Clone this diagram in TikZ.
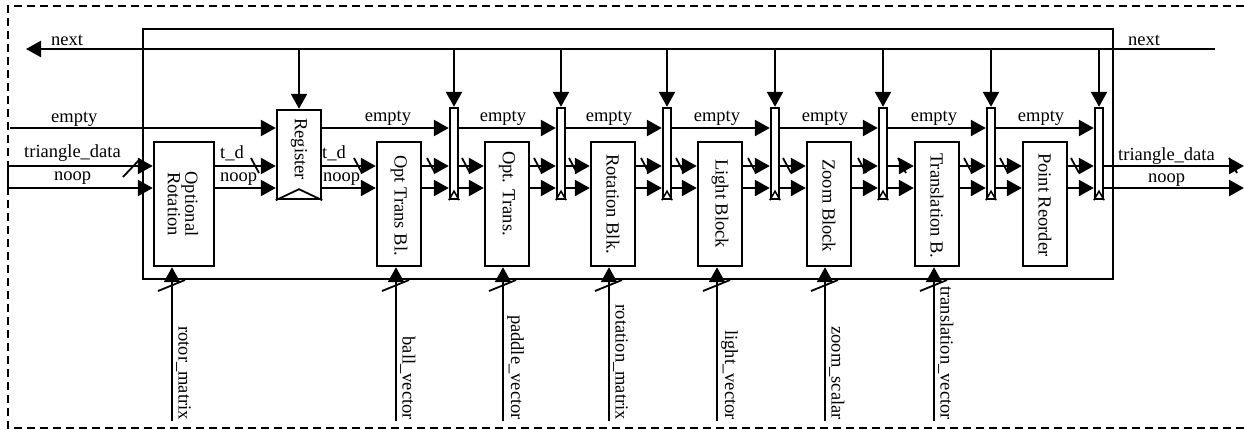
\documentclass[tikz,border=0pt]{standalone}
\usepackage{fontspec}
\setmainfont{Liberation Serif}
\usetikzlibrary{arrows.meta,calc}
\begin{document}
\begin{tikzpicture}[x=1pt,y=-1pt,
  line width=2.4pt,
  every node/.style={font=\fontsize{18.5}{17.5}\selectfont, inner sep=0pt},
  blk/.style={draw, rectangle, minimum width=44pt, minimum height=124pt},
  latch/.style={draw, rectangle, minimum width=8pt, minimum height=91pt},
  arr/.style={-{Triangle[length=15pt,width=16pt]}},
  vtxt/.style={rotate=-90, anchor=west},
  inlab/.style={rotate=-90, anchor=south east},
  lab/.style={anchor=base},
  labw/.style={anchor=base west},
  busmark/.style={line width=1.8pt},
  frame/.style={dash pattern=on 8pt off 5pt, line width=2pt}
]
\useasboundingbox (0,0) rectangle (1244,429);

% outer dashed frame
\draw[frame] (1244,6) -- (8,6) -- (8,428) -- (1244,428);

% pipeline enclosure
\node[draw, rectangle, minimum width=970pt, minimum height=250pt] (pipe) at (628,154) {};

% blocks
\node[draw, rectangle, minimum width=60pt, minimum height=124pt] (ort) at (184,204) {};
\node[draw, rectangle, minimum width=44pt, minimum height=89pt] (reg) at (299,154.5) {};
\node[blk] (otb) at (399,204) {};
\node[blk] (otr) at (507,204) {};
\node[blk] (rot) at (613,204) {};
\node[blk] (lgt) at (720,204) {};
\node[blk] (zom) at (829,204) {};
\node[blk] (trn) at (937,204) {};
\node[blk] (prd) at (1045,204) {};

% latches
\node[latch] (l1) at (454,153.5) {};
\node[latch] (l2) at (561,153.5) {};
\node[latch] (l3) at (667,153.5) {};
\node[latch] (l4) at (775,153.5) {};
\node[latch] (l5) at (883,153.5) {};
\node[latch] (l6) at (991,153.5) {};
\node[latch] (l7) at (1099,153.5) {};

% clock notches
\draw[line width=1.8pt] (reg.south west) -- ($(reg.south)+(0,-11)$) -- (reg.south east);
\foreach \l in {l1,l2,l3,l4,l5,l6,l7}{
  \draw[line width=1.5pt] (\l.south west) -- ($(\l.south)+(0,-9)$) -- (\l.south east);
}

% block texts
\node[align=center, rotate=-90] (tort) at (183,204) {Optional\\Rotation};
\node[vtxt] (treg) at (299,117) {Register};
\node[vtxt] (totb) at (399,154) {Opt Trans Bl.};
\node[vtxt] (totr) at (507,150) {Opt. Trans.};
\node[vtxt] (trot) at (613,153) {Rotation Blk.};
\node[vtxt] (tlgt) at (720,158) {Light Block};
\node[vtxt] (tzom) at (829,158) {Zoom Block};
\node[vtxt] (ttrn) at (937,152) {Translation B.};
\node[vtxt] (tprd) at (1045,152) {Point Reorder};

% reference levels
\coordinate (ynx) at (0,49);
\coordinate (yem) at (0,128);
\coordinate (ytd) at (0,166);
\coordinate (yno) at (0,188);

% next line
\coordinate (nR) at (1215,49);
\coordinate (nL) at (26,49);
\draw[arr] (nR) -- (nL);
\draw[arr] (reg.north |- ynx) -- (reg.north);
\foreach \l in {l1,l2,l3,l4,l5,l6,l7}{
  \draw[arr] (\l.north |- ynx) -- (\l.north);
}
\node[labw] (nxl) at (50,45) {next};
\node[labw] (nxr) at (1127,45) {next};

% empty chain
\coordinate (eL) at (10,128);
\draw[arr] (eL) -- (reg.west |- yem);
\draw[arr] (reg.east |- yem) -- (l1.west |- yem);
\draw[arr] (l1.east |- yem) -- (l2.west |- yem);
\draw[arr] (l2.east |- yem) -- (l3.west |- yem);
\draw[arr] (l3.east |- yem) -- (l4.west |- yem);
\draw[arr] (l4.east |- yem) -- (l5.west |- yem);
\draw[arr] (l5.east |- yem) -- (l6.west |- yem);
\draw[arr] (l6.east |- yem) -- (l7.west |- yem);
\node[labw] (eml) at (50,122) {empty};
\foreach \x/\n in {388/e1,503/e2,609/e3,717/e4,825/e5,934/e6,1041/e7}{
  \node[lab] (\n) at (\x,121) {empty};
}

% data / noop chain
\coordinate (tL) at (8,166);
\coordinate (oL) at (8,188);
\draw (tL) -- (oL);
\draw[arr] (tL) -- (ort.west |- ytd);
\draw[arr] (oL) -- (ort.west |- yno);
\foreach \a/\b in {ort/reg,reg/otb,otb/l1,l1/otr,otr/l2,l2/rot,rot/l3,l3/lgt,lgt/l4,l4/zom,zom/l5,l5/trn,trn/l6,l6/prd,prd/l7}{
  \draw[arr] (\a.east |- ytd) -- (\b.west |- ytd);
  \draw[arr] (\a.east |- yno) -- (\b.west |- yno);
}
\coordinate (tR) at (1244,166);
\coordinate (oR) at (1244,188);
\draw[arr] (l7.east |- ytd) -- (tR);
\draw[arr] (l7.east |- yno) -- (oR);

\node[labw] (tdl) at (23,157) {triangle\_data};
\node[labw] (nol) at (53,180) {noop};
\node[labw] (td1) at (219,158) {t\_d};
\node[labw] (no1) at (219,181) {noop};
\node[labw] (td2) at (321,158) {t\_d};
\node[labw] (no2) at (322,181) {noop};
\node[labw] (tdr) at (1117,160) {triangle\_data};
\node[labw] (nor) at (1147,182) {noop};

% bus marks on data line
\draw[busmark] (123,177) -- (140,159);
\foreach \x in {255,358,431,466,538,573,645,680,752,787,862,902,968,1004,1075,1233}{
  \draw[busmark] (\x-4,158) -- (\x+4,173);
}

% side inputs
\foreach \x/\b/\n/\t in {172/ort/i1/rotor\_matrix,396/otb/i2/ball\_vector,503/otr/i3/paddle\_vector,609/rot/i4/rotation\_matrix,717/lgt/i5/light\_vector,825/zom/i6/zoom\_scalar,934/trn/i7/translation\_vector}{
  \coordinate (\n) at (\x,421);
  \draw[arr] (\n) -- (\n |- \b.south);
  \draw[busmark] (\x-14,291) -- (\x+13,280);
  \node[inlab] at ($(\n)+(3,0)$) {\t};
}
\end{tikzpicture}
\end{document}
